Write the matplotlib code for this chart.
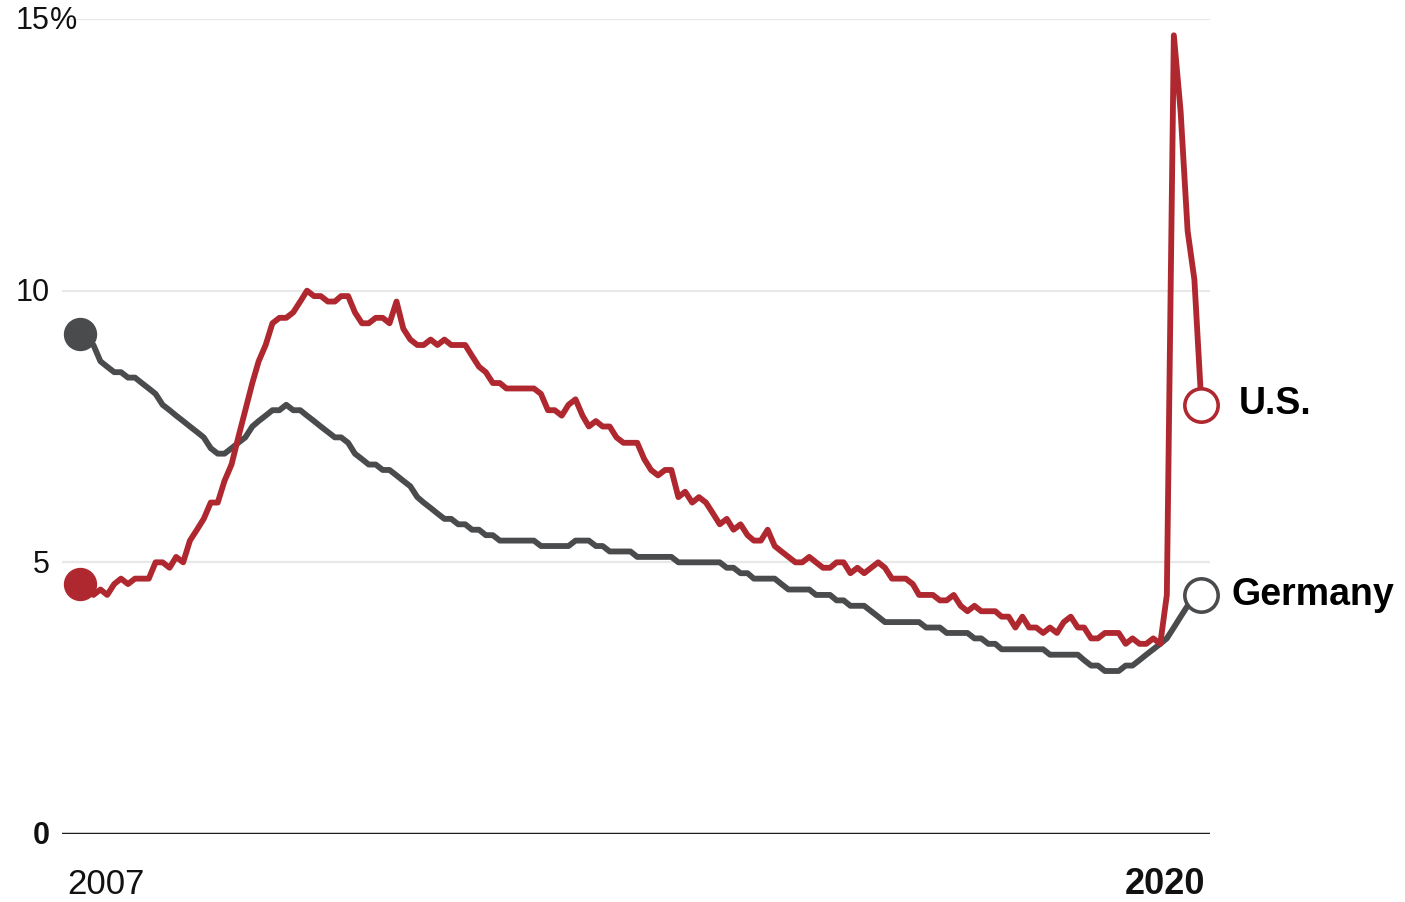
import matplotlib.pyplot as plt
import pandas as pd

# monthly unemployment rate, Jan 2007 - Aug 2020
months = pd.date_range("2007-01-01", "2020-08-01", freq="MS")

us_rate = [
    4.6, 4.5, 4.4, 4.5, 4.4, 4.6, 4.7, 4.6, 4.7, 4.7, 4.7, 5.0,  # 2007
    5.0, 4.9, 5.1, 5.0, 5.4, 5.6, 5.8, 6.1, 6.1, 6.5, 6.8, 7.3,  # 2008
    7.8, 8.3, 8.7, 9.0, 9.4, 9.5, 9.5, 9.6, 9.8, 10.0, 9.9, 9.9,  # 2009
    9.8, 9.8, 9.9, 9.9, 9.6, 9.4, 9.4, 9.5, 9.5, 9.4, 9.8, 9.3,  # 2010
    9.1, 9.0, 9.0, 9.1, 9.0, 9.1, 9.0, 9.0, 9.0, 8.8, 8.6, 8.5,  # 2011
    8.3, 8.3, 8.2, 8.2, 8.2, 8.2, 8.2, 8.1, 7.8, 7.8, 7.7, 7.9,  # 2012
    8.0, 7.7, 7.5, 7.6, 7.5, 7.5, 7.3, 7.2, 7.2, 7.2, 6.9, 6.7,  # 2013
    6.6, 6.7, 6.7, 6.2, 6.3, 6.1, 6.2, 6.1, 5.9, 5.7, 5.8, 5.6,  # 2014
    5.7, 5.5, 5.4, 5.4, 5.6, 5.3, 5.2, 5.1, 5.0, 5.0, 5.1, 5.0,  # 2015
    4.9, 4.9, 5.0, 5.0, 4.8, 4.9, 4.8, 4.9, 5.0, 4.9, 4.7, 4.7,  # 2016
    4.7, 4.6, 4.4, 4.4, 4.4, 4.3, 4.3, 4.4, 4.2, 4.1, 4.2, 4.1,  # 2017
    4.1, 4.1, 4.0, 4.0, 3.8, 4.0, 3.8, 3.8, 3.7, 3.8, 3.7, 3.9,  # 2018
    4.0, 3.8, 3.8, 3.6, 3.6, 3.7, 3.7, 3.7, 3.5, 3.6, 3.5, 3.5,  # 2019
    3.6, 3.5, 4.4, 14.7, 13.3, 11.1, 10.2, 7.9,                  # 2020
]

germany_rate = [
    9.2, 9.1, 9.0, 8.7, 8.6, 8.5, 8.5, 8.4, 8.4, 8.3, 8.2, 8.1,  # 2007
    7.9, 7.8, 7.7, 7.6, 7.5, 7.4, 7.3, 7.1, 7.0, 7.0, 7.1, 7.2,  # 2008
    7.3, 7.5, 7.6, 7.7, 7.8, 7.8, 7.9, 7.8, 7.8, 7.7, 7.6, 7.5,  # 2009
    7.4, 7.3, 7.3, 7.2, 7.0, 6.9, 6.8, 6.8, 6.7, 6.7, 6.6, 6.5,  # 2010
    6.4, 6.2, 6.1, 6.0, 5.9, 5.8, 5.8, 5.7, 5.7, 5.6, 5.6, 5.5,  # 2011
    5.5, 5.4, 5.4, 5.4, 5.4, 5.4, 5.4, 5.3, 5.3, 5.3, 5.3, 5.3,  # 2012
    5.4, 5.4, 5.4, 5.3, 5.3, 5.2, 5.2, 5.2, 5.2, 5.1, 5.1, 5.1,  # 2013
    5.1, 5.1, 5.1, 5.0, 5.0, 5.0, 5.0, 5.0, 5.0, 5.0, 4.9, 4.9,  # 2014
    4.8, 4.8, 4.7, 4.7, 4.7, 4.7, 4.6, 4.5, 4.5, 4.5, 4.5, 4.4,  # 2015
    4.4, 4.4, 4.3, 4.3, 4.2, 4.2, 4.2, 4.1, 4.0, 3.9, 3.9, 3.9,  # 2016
    3.9, 3.9, 3.9, 3.8, 3.8, 3.8, 3.7, 3.7, 3.7, 3.7, 3.6, 3.6,  # 2017
    3.5, 3.5, 3.4, 3.4, 3.4, 3.4, 3.4, 3.4, 3.4, 3.3, 3.3, 3.3,  # 2018
    3.3, 3.3, 3.2, 3.1, 3.1, 3.0, 3.0, 3.0, 3.1, 3.1, 3.2, 3.3,  # 2019
    3.4, 3.5, 3.6, 3.8, 4.0, 4.2, 4.3, 4.4,                      # 2020
]

y_ticks = [0, 5, 10, 15]
y_tick_labels = ["0", "5", "10", "15"]
year_labels = ["2007", "2020"]
series_labels = ["U.S.", "Germany"]

US_RED = "#b0282f"
GERMANY_GRAY = "#4a4b4d"

plt.rcParams["font.family"] = ["Liberation Sans", "DejaVu Sans"]

fig = plt.figure(figsize=(14.05, 9.03), dpi=100)
ax = fig.add_axes([62 / 1405, 68 / 903, 1148 / 1405, 815 / 903])

for value in y_ticks[1:]:
    ax.axhline(value, color="#e8e8e8", lw=1.6, zorder=0)
ax.axhline(0, color="#1e1e1e", lw=2.5, zorder=1)

line_style = dict(lw=4.2, solid_joinstyle="round", solid_capstyle="round", clip_on=False)
ax.plot(months, germany_rate, color=GERMANY_GRAY, zorder=3, **line_style)
ax.plot(months, us_rate, color=US_RED, zorder=4, **line_style)

# start dots
ax.plot(months[0], germany_rate[0], "o", ms=23, color=GERMANY_GRAY, zorder=3, clip_on=False)
ax.plot(months[0], us_rate[0], "o", ms=23, color=US_RED, zorder=4, clip_on=False)

# end rings + labels
for rate, color, label, dx in [
    (us_rate, US_RED, series_labels[0], 27),
    (germany_rate, GERMANY_GRAY, series_labels[1], 22),
]:
    ax.plot(months[-1], rate[-1], "o", ms=24, mfc="white", mec=color, mew=2.6,
            zorder=6, clip_on=False)
    ax.annotate(label, xy=(months[-1], rate[-1]), xytext=(dx, 1), textcoords="offset points",
                ha="left", va="center", fontsize=27, fontweight="bold", color="black")

ax.set_xlim(months[0] - pd.Timedelta(days=80), months[-1] + pd.Timedelta(days=38))
ax.set_ylim(0, 15)

for value, label in zip(y_ticks, y_tick_labels):
    ax.annotate(label, xy=(0, value), xycoords=ax.get_yaxis_transform(),
                xytext=(-9, -1), textcoords="offset points", ha="right", va="center",
                fontsize=22, fontweight="bold" if value == 0 else "normal", color="#111111")
ax.annotate("%", xy=(0, y_ticks[-1]), xycoords=ax.get_yaxis_transform(),
            xytext=(-9, -1), textcoords="offset points", ha="left", va="center",
            fontsize=22, color="#111111")

ax.text(0.005, -0.061, year_labels[0], transform=ax.transAxes, ha="left", va="center",
        fontsize=25, color="#111111")
ax.text(0.9956, -0.061, year_labels[1], transform=ax.transAxes, ha="right", va="center",
        fontsize=26, fontweight="bold", color="#111111")

ax.set_xticks([])
ax.set_yticks([])
for spine in ax.spines.values():
    spine.set_visible(False)

fig.savefig("out.png", dpi=100)
